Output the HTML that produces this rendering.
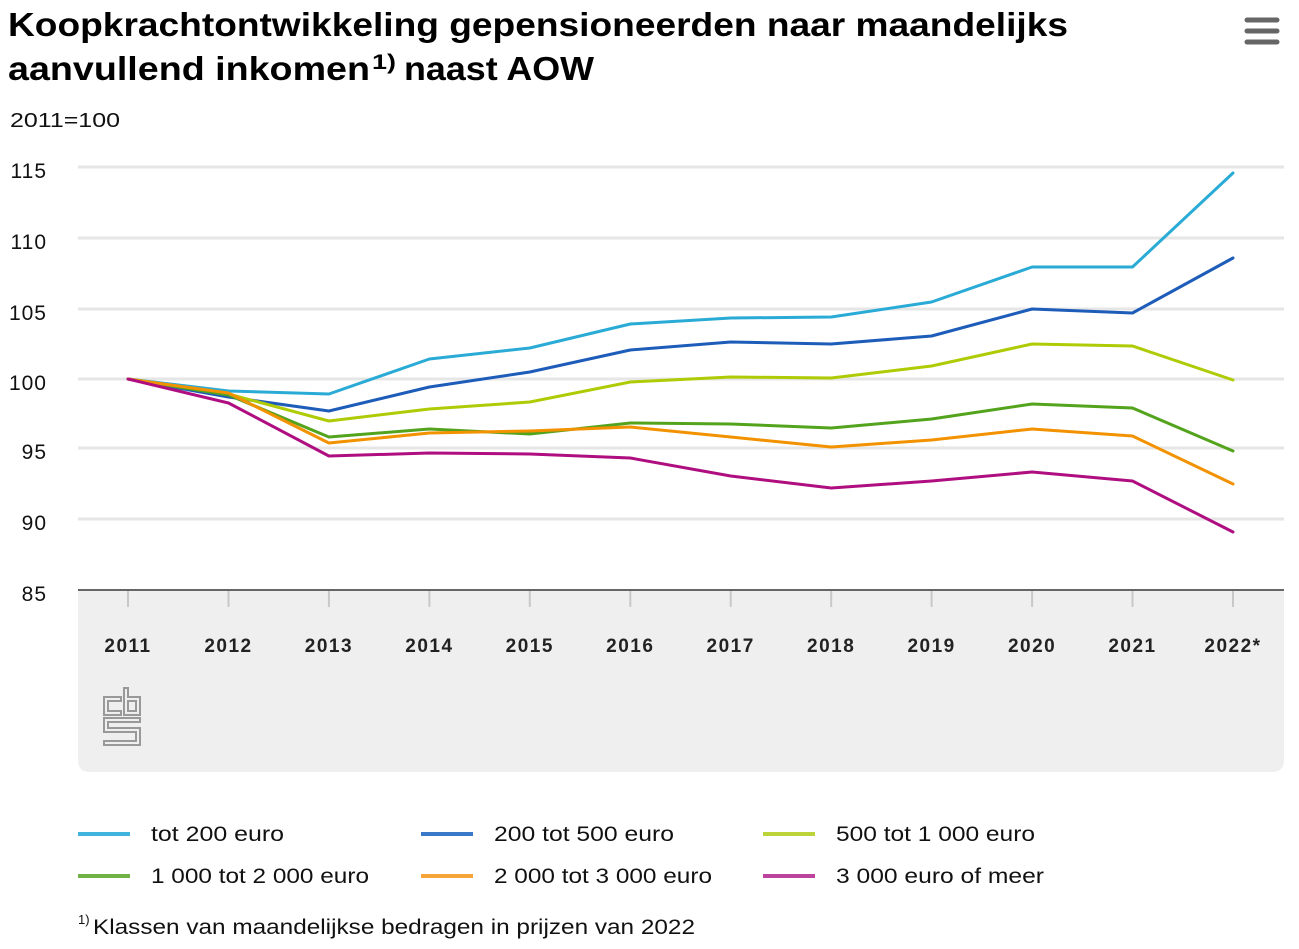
<!DOCTYPE html>
<html><head><meta charset="utf-8"><style>
html,body{margin:0;padding:0;background:#fff;}
svg{display:block;}
</style></head><body>
<svg width="1299" height="949" viewBox="0 0 1299 949" xmlns="http://www.w3.org/2000/svg" font-family="Liberation Sans, sans-serif">
<rect width="1299" height="949" fill="#fff"/>
<!-- title -->
<text x="8" y="36" font-size="33" font-weight="bold" fill="#000" textLength="1060" lengthAdjust="spacingAndGlyphs">Koopkrachtontwikkeling gepensioneerden naar maandelijks</text>
<text x="8" y="80" font-size="33" font-weight="bold" fill="#000"><tspan textLength="362" lengthAdjust="spacingAndGlyphs">aanvullend inkomen</tspan><tspan x="372" y="69" font-size="21" textLength="24" lengthAdjust="spacingAndGlyphs">1)</tspan><tspan x="404" y="80" textLength="190" lengthAdjust="spacingAndGlyphs">naast AOW</tspan></text>
<!-- hamburger -->
<g stroke="#666" stroke-width="5" stroke-linecap="round">
<line x1="1247" y1="20" x2="1277" y2="20"/>
<line x1="1247" y1="31" x2="1277" y2="31"/>
<line x1="1247" y1="42" x2="1277" y2="42"/>
</g>
<text x="10" y="127" font-size="20" fill="#111" textLength="110" lengthAdjust="spacingAndGlyphs">2011=100</text>
<!-- panel -->
<path d="M78 590 H1284 V760 Q1284 772 1272 772 H90 Q78 772 78 760 Z" fill="#efefef"/>
<!-- gridlines -->
<g stroke="#e6e6e6" stroke-width="3">
<line x1="78" y1="167" x2="1284" y2="167"/>
<line x1="78" y1="238" x2="1284" y2="238"/>
<line x1="78" y1="309" x2="1284" y2="309"/>
<line x1="78" y1="379" x2="1284" y2="379"/>
<line x1="78" y1="448" x2="1284" y2="448"/>
<line x1="78" y1="519" x2="1284" y2="519"/>
</g>
<line x1="78" y1="590" x2="1284" y2="590" stroke="#666" stroke-width="2"/>
<!-- y labels -->
<g font-size="21" fill="#111" text-anchor="end" letter-spacing="1">
<text x="47" y="178">115</text>
<text x="47" y="249">110</text>
<text x="47" y="320">105</text>
<text x="47" y="390">100</text>
<text x="47" y="459">95</text>
<text x="47" y="530">90</text>
<text x="47" y="601">85</text>
</g>
<!-- ticks -->
<g stroke="#c8c8c8" stroke-width="2">
<line x1="128" y1="591" x2="128" y2="607"/>
<line x1="228.5" y1="591" x2="228.5" y2="607"/>
<line x1="328.9" y1="591" x2="328.9" y2="607"/>
<line x1="429.4" y1="591" x2="429.4" y2="607"/>
<line x1="529.8" y1="591" x2="529.8" y2="607"/>
<line x1="630.3" y1="591" x2="630.3" y2="607"/>
<line x1="730.7" y1="591" x2="730.7" y2="607"/>
<line x1="831.2" y1="591" x2="831.2" y2="607"/>
<line x1="931.6" y1="591" x2="931.6" y2="607"/>
<line x1="1032.1" y1="591" x2="1032.1" y2="607"/>
<line x1="1132.5" y1="591" x2="1132.5" y2="607"/>
<line x1="1233" y1="591" x2="1233" y2="607"/>
</g>
<!-- x labels -->
<g font-size="19" fill="#222" text-anchor="middle" letter-spacing="1.5" font-weight="bold">
<text x="128" y="652">2011</text>
<text x="228.5" y="652">2012</text>
<text x="328.9" y="652">2013</text>
<text x="429.4" y="652">2014</text>
<text x="529.8" y="652">2015</text>
<text x="630.3" y="652">2016</text>
<text x="730.7" y="652">2017</text>
<text x="831.2" y="652">2018</text>
<text x="931.6" y="652">2019</text>
<text x="1032.1" y="652">2020</text>
<text x="1132.5" y="652">2021</text>
<text x="1233" y="652">2022*</text>
</g>
<!-- cbs logo -->
<g fill="none" stroke="#999" stroke-width="2">
<path d="M104 697 H121 V701 H108 V711 H121 V715 H104 Z"/>
<path d="M124 688 H128 V697 H140 V715 H124 Z"/>
<rect x="128" y="701" width="8" height="10"/>
<path d="M104 718 H140 V722 H108 V728 H140 V745 H104 V741 H136 V732 H104 Z"/>
</g>
<!-- series -->
<g fill="none" stroke-width="3" stroke-linejoin="round" stroke-linecap="round">
<polyline stroke="#2aabd6" points="128,379 228.5,391 328.9,394 429.4,359 529.8,348 630.3,324 730.7,318 831.2,317 931.6,302 1032.1,267 1132.5,267 1233,173"/>
<polyline stroke="#1d5cb8" points="128,379 228.5,397 328.9,411 429.4,387 529.8,372 630.3,350 730.7,342 831.2,344 931.6,336 1032.1,309 1132.5,313 1233,258"/>
<polyline stroke="#afcb05" points="128,379 228.5,394 328.9,421 429.4,409 529.8,402 630.3,382 730.7,377 831.2,378 931.6,366 1032.1,344 1132.5,346 1233,380"/>
<polyline stroke="#53a31d" points="128,379 228.5,395 328.9,437 429.4,429 529.8,434 630.3,423 730.7,424 831.2,428 931.6,419 1032.1,404 1132.5,408 1233,451"/>
<polyline stroke="#f39200" points="128,379 228.5,393 328.9,443 429.4,433 529.8,431 630.3,427 730.7,437 831.2,447 931.6,440 1032.1,429 1132.5,436 1233,484"/>
<polyline stroke="#af0e80" points="128,379 228.5,403 328.9,456 429.4,453 529.8,454 630.3,458 730.7,476 831.2,488 931.6,481 1032.1,472 1132.5,481 1233,532"/>
</g>
<!-- legend -->
<g stroke-width="4">
<line x1="78" y1="834" x2="130" y2="834" stroke="#3fb4dc"/>
<line x1="421" y1="834" x2="473" y2="834" stroke="#3a78c9"/>
<line x1="763" y1="834" x2="815" y2="834" stroke="#bcd43a"/>
<line x1="78" y1="876" x2="130" y2="876" stroke="#72b347"/>
<line x1="421" y1="876" x2="473" y2="876" stroke="#f5a53a"/>
<line x1="763" y1="876" x2="815" y2="876" stroke="#bd449c"/>
</g>
<g font-size="21" fill="#111">
<text x="151" y="841" textLength="133" lengthAdjust="spacingAndGlyphs">tot 200 euro</text>
<text x="494" y="841" textLength="180" lengthAdjust="spacingAndGlyphs">200 tot 500 euro</text>
<text x="836" y="841" textLength="199" lengthAdjust="spacingAndGlyphs">500 tot 1 000 euro</text>
<text x="151" y="883" textLength="218" lengthAdjust="spacingAndGlyphs">1 000 tot 2 000 euro</text>
<text x="494" y="883" textLength="218" lengthAdjust="spacingAndGlyphs">2 000 tot 3 000 euro</text>
<text x="836" y="883" textLength="208" lengthAdjust="spacingAndGlyphs">3 000 euro of meer</text>
</g>
<text x="78" y="934" font-size="21" fill="#111"><tspan font-size="13" y="924">1)</tspan><tspan x="93" y="934" textLength="602" lengthAdjust="spacingAndGlyphs">Klassen van maandelijkse bedragen in prijzen van 2022</tspan></text>
</svg>
</body></html>
